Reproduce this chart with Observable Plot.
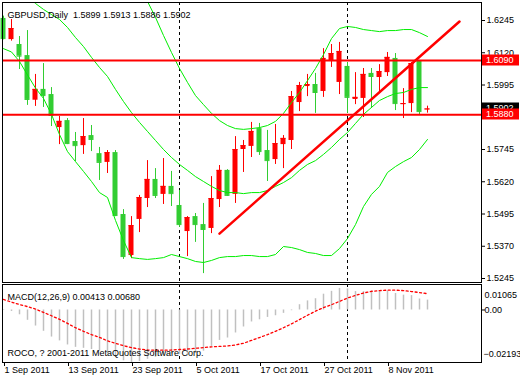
<!DOCTYPE html>
<html><head><meta charset="utf-8">
<script src="https://cdn.jsdelivr.net/npm/d3@7"></script>
<script src="https://cdn.jsdelivr.net/npm/@observablehq/plot@0.6"></script>
<style>
body{margin:0;background:#fff;}
#wrap{position:relative;width:520px;height:380px;overflow:hidden;background:#fff;}
#wrap svg{position:absolute;left:0;}
</style></head><body><div id="wrap"></div>
<script>
// ---- data ----
const opens  = [1.6253,1.6171,1.6152,1.6109,1.5936,1.5978,1.5958,1.5830,1.5857,1.5776,1.5760,1.5799,1.5729,1.5695,1.5733,1.5493,1.5334,1.5474,1.5555,1.5629,1.5571,1.5602,1.5528,1.5427,1.5485,1.5454,1.5439,1.5551,1.5664,1.5571,1.5745,1.5757,1.5826,1.5741,1.5706,1.5764,1.5780,1.5927,1.5989,1.5997,1.5970,1.6086,1.6005,1.6067,1.5939,1.5943,1.6040,1.6024,1.6043,1.6098,1.5919,1.5923,1.6086,1.5899];
const highs  = [1.6262,1.6249,1.6183,1.6206,1.6036,1.6078,1.5985,1.5873,1.5865,1.5811,1.5865,1.5838,1.5753,1.5741,1.5741,1.5512,1.5485,1.5567,1.5702,1.5671,1.5710,1.5660,1.5586,1.5485,1.5497,1.5536,1.5640,1.5683,1.5667,1.5795,1.5780,1.5850,1.5846,1.5819,1.5842,1.5799,1.5970,1.6005,1.6036,1.6040,1.6136,1.6152,1.6160,1.6082,1.6043,1.6059,1.6059,1.6074,1.6121,1.6117,1.5981,1.6082,1.6090,1.5913];
const lows   = [1.6170,1.6165,1.6055,1.5916,1.5912,1.5908,1.5834,1.5764,1.5764,1.5698,1.5726,1.5737,1.5625,1.5652,1.5485,1.5319,1.5322,1.5423,1.5520,1.5555,1.5532,1.5524,1.5443,1.5330,1.5385,1.5264,1.5419,1.5520,1.5563,1.5536,1.5656,1.5714,1.5722,1.5621,1.5687,1.5671,1.5745,1.5892,1.5950,1.5885,1.5947,1.6063,1.5958,1.5885,1.5919,1.5869,1.5904,1.5966,1.6028,1.5896,1.5865,1.5888,1.5877,1.5886];
const closes = [1.6175,1.6214,1.6107,1.5939,1.5978,1.5954,1.5877,1.5854,1.5768,1.5760,1.5795,1.5784,1.5695,1.5733,1.5489,1.5330,1.5450,1.5559,1.5629,1.5567,1.5602,1.5574,1.5454,1.5481,1.5454,1.5435,1.5555,1.5664,1.5567,1.5745,1.5760,1.5815,1.5737,1.5702,1.5768,1.5788,1.5950,1.5993,1.5997,1.5966,1.6098,1.6117,1.6125,1.5947,1.5947,1.6036,1.6028,1.6047,1.6102,1.5923,1.5923,1.6078,1.5892,1.5902];

const bbUpper  = [null,null,null,null,null,null,null,null,null,null,null,null,null,null,null,null,1.6478,1.6392,1.6319,1.6257,1.6187,1.6121,1.6059,1.6005,1.5954,1.5919,1.5885,1.5857,1.5838,1.5826,1.5823,1.5826,1.5830,1.5838,1.5854,1.5885,1.5927,1.5966,1.6012,1.6059,1.6113,1.6175,1.6214,1.6222,1.6218,1.6210,1.6206,1.6202,1.6206,1.6206,1.6210,1.6210,1.6198,1.6183];
const bbMiddle = [1.6431,1.6400,1.6369,1.6338,1.6311,1.6288,1.6268,1.6249,1.6218,1.6179,1.6144,1.6102,1.6063,1.6028,1.5978,1.5931,1.5888,1.5850,1.5815,1.5780,1.5745,1.5714,1.5687,1.5664,1.5640,1.5621,1.5602,1.5586,1.5578,1.5578,1.5574,1.5578,1.5578,1.5586,1.5602,1.5617,1.5636,1.5664,1.5687,1.5702,1.5726,1.5753,1.5784,1.5811,1.5846,1.5881,1.5908,1.5935,1.5950,1.5962,1.5966,1.5978,1.5985,1.5985];
const bbLower  = [1.6136,1.6123,1.6086,1.6034,1.5983,1.5943,1.5881,1.5803,1.5737,1.5698,1.5660,1.5621,1.5578,1.5559,1.5470,1.5392,1.5326,1.5322,1.5319,1.5322,1.5326,1.5338,1.5330,1.5322,1.5311,1.5307,1.5315,1.5326,1.5330,1.5330,1.5334,1.5334,1.5330,1.5330,1.5338,1.5369,1.5365,1.5357,1.5346,1.5342,1.5334,1.5334,1.5361,1.5400,1.5454,1.5524,1.5571,1.5602,1.5656,1.5679,1.5698,1.5714,1.5745,1.5784];

const macdMain   = [0.0002,-0.0006,-0.0020,-0.0043,-0.0067,-0.0089,-0.0113,-0.0129,-0.0146,-0.0156,-0.0160,-0.0165,-0.0172,-0.0182,-0.0198,-0.0212,-0.0219,-0.0215,-0.0206,-0.0198,-0.0190,-0.0184,-0.0185,-0.0186,-0.0182,-0.0172,-0.0152,-0.0127,-0.0117,-0.0096,-0.0071,-0.0050,-0.0041,-0.0031,-0.0024,-0.0014,-0.0003,0.0022,0.0038,0.0047,0.0066,0.0078,0.0090,0.0088,0.0077,0.0077,0.0080,0.0079,0.0079,0.0069,0.0062,0.0060,0.0046,0.00413];
const macdSignal = [0.0044,0.0033,0.0023,0.0014,0.0004,-0.0010,-0.0024,-0.0039,-0.0056,-0.0074,-0.0089,-0.0103,-0.0114,-0.0129,-0.0139,-0.0149,-0.0157,-0.0163,-0.0167,-0.0168,-0.0168,-0.0167,-0.0165,-0.0163,-0.0160,-0.0157,-0.0154,-0.0152,-0.0150,-0.0146,-0.0139,-0.0127,-0.0115,-0.0103,-0.0089,-0.0074,-0.0058,-0.0040,-0.0022,-0.0005,0.0010,0.0022,0.0036,0.0050,0.0061,0.0071,0.0078,0.0081,0.0083,0.0083,0.0081,0.0077,0.0073,0.0068];
const macdRange = [-0.02193, 0.01065];

const levels = [1.6090, 1.5880];
const lastPrice = 1.5902;
const trendBars = [27, 57];
const trendPrices = [1.5419, 1.6241];
const separatorBars = [22, 43];
const priceTicks = [1.6245, 1.6120, 1.5995, 1.5745, 1.5620, 1.5495, 1.5370, 1.5245];
const dateTickBars = [0, 8, 16, 24, 32, 40, 48];
const dateTickLabels = ["1 Sep 2011","13 Sep 2011","23 Sep 2011","5 Oct 2011","17 Oct 2011","27 Oct 2011","8 Nov 2011"];
const titleText = "GBPUSD,Daily\u00a0 1.5899 1.5913 1.5886 1.5902";
const macdTitle = "MACD(12,26,9) 0.00413 0.00680";
const copyright = "ROCO, ? 2001-2011 MetaQuotes Software Corp.";

// ---- build ----
const UP = "#ff0000", DOWN = "#32cd32", BAND = "#00ee00";
const candles = opens.map((o, i) => ({i, open: o, high: highs[i], low: lows[i], close: closes[i], c: closes[i] >= o ? UP : DOWN}));
const band = (arr) => arr.map((v, i) => ({i, v}));
const trend = trendBars.map((b, k) => ({i: b, p: trendPrices[k]}));
const xDomain = [-0.125, 59.75];
const font = {fontFamily: "'Liberation Sans', Arial, sans-serif", fontSize: "9px", color: "black", background: "white", overflow: "visible"};
const f4 = d3.format(".4f");

const main = Plot.plot({
  width: 520, height: 284, marginTop: 2, marginBottom: 2, marginLeft: 2, marginRight: 39,
  x: {domain: xDomain, axis: null, label: null},
  y: {domain: [1.52295, 1.63148], axis: null, label: null},
  color: {type: "identity"},
  style: font,
  marks: [
    Plot.ruleX(separatorBars, {x: d => d, stroke: "black", strokeDasharray: "3,3"}),
    Plot.ruleX(candles, {x: "i", y1: "low", y2: "high", stroke: "c"}),
    Plot.rect(candles, {x1: d => d.i - 0.3125, x2: d => d.i + 0.3125, y1: "open", y2: "close", fill: "c"}),
    Plot.ruleY(candles, {y: "close", x1: d => d.i - 0.3125, x2: d => d.i + 0.3125, stroke: "c"}),
    Plot.line(band(bbUpper), {x: "i", y: "v", stroke: BAND, strokeWidth: 1, clip: true}),
    Plot.line(band(bbMiddle), {x: "i", y: "v", stroke: BAND, strokeWidth: 1, clip: true}),
    Plot.line(band(bbLower), {x: "i", y: "v", stroke: BAND, strokeWidth: 1, clip: true}),
    Plot.ruleY(levels, {y: d => d, stroke: UP, strokeWidth: 2}),
    Plot.line(trend, {x: "i", y: "p", stroke: UP, strokeWidth: 2.5}),
    Plot.frame({stroke: "black"}),
    Plot.axisY({anchor: "right", ticks: priceTicks, tickSize: 3, tickPadding: 2, tickFormat: f4, label: null}),
    Plot.text([titleText], {frameAnchor: "top-left", dx: 5, dy: 9, text: d => d, fill: "black"})
  ]
});

const macd = Plot.plot({
  width: 520, height: 96, marginTop: 0, marginBottom: 18, marginLeft: 2, marginRight: 39,
  x: {domain: xDomain, axis: null, label: null},
  y: {domain: macdRange, axis: null, label: null},
  style: font,
  marks: [
    Plot.ruleX(separatorBars, {x: d => d, stroke: "black", strokeDasharray: "3,3"}),
    Plot.ruleX(band(macdMain), {x: "i", y1: 0, y2: "v", stroke: "#c0c0c0", strokeWidth: 1.5}),
    Plot.line(band(macdSignal), {x: "i", y: "v", stroke: UP, strokeWidth: 1.3, strokeDasharray: "2,2.5"}),
    Plot.frame({stroke: "black"}),
    Plot.axisY({anchor: "right", ticks: [0], tickSize: 3, tickPadding: 0, tickFormat: d3.format(".2f"), label: null}),
    Plot.text([macdRange[1]], {frameAnchor: "top-right", textAnchor: "start", dx: 3, dy: 7, text: d => d3.format(".5f")(d), fill: "black"}),
    Plot.text([macdRange[0]], {frameAnchor: "bottom-right", textAnchor: "start", dx: 2, dy: -6, text: d => d3.format(".5f")(d), fill: "black"}),
    Plot.axisX({anchor: "bottom", ticks: dateTickBars, tickSize: 4, tickPadding: 0, textAnchor: "start", dx: 1, label: null,
      tickFormat: d => dateTickLabels[dateTickBars.indexOf(d)]}),
    Plot.text([macdTitle], {frameAnchor: "top-left", dx: 5, dy: 9, text: d => d, fill: "black"}),
    Plot.text([copyright], {frameAnchor: "bottom-left", dx: 5, dy: -7, text: d => d, fill: "black"})
  ]
});

main.style.top = "0px";
macd.style.top = "284px";
const wrap = document.getElementById("wrap");
wrap.appendChild(main);
wrap.appendChild(macd);

// price labels on the right axis, placed with the plot's own y scale
const ys = main.scale("y");
const g = d3.select(main).append("g")
  .attr("font-family", "'Liberation Sans', Arial, sans-serif").attr("font-size", 9).attr("text-anchor", "start");
[{v: lastPrice, fill: "black"}, ...levels.map(v => ({v, fill: UP}))].forEach(b => {
  const y = Math.round(ys.apply(b.v));
  g.append("rect").attr("x", 482).attr("y", y - 5.5).attr("width", 37).attr("height", 11).attr("fill", b.fill);
  g.append("text").attr("x", 486).attr("y", y).attr("dy", "0.35em").attr("text-anchor", "start")
    .attr("fill", "white").text(f4(b.v));
});
</script></body></html>
